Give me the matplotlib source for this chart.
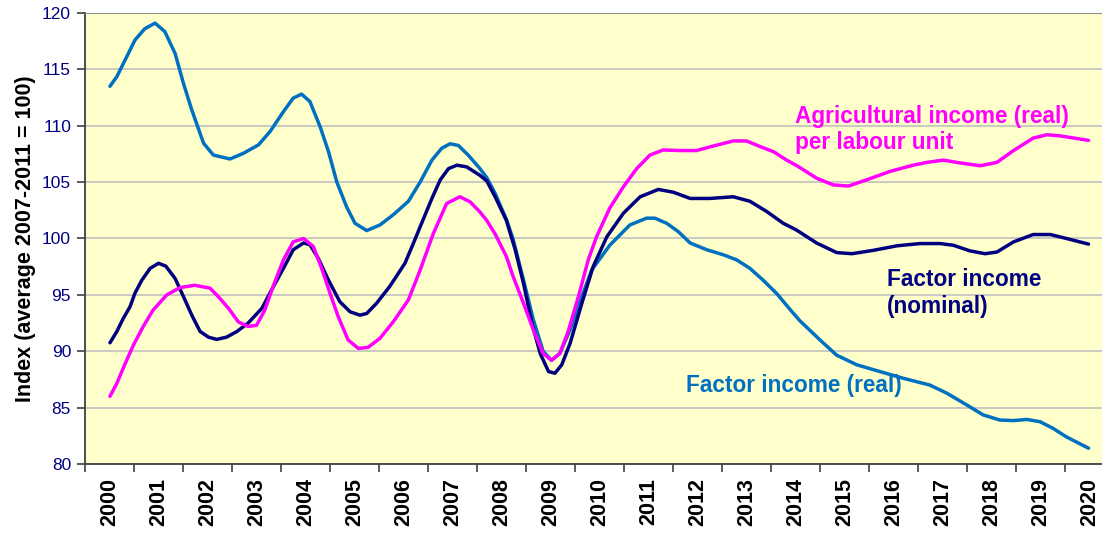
import numpy as np
import matplotlib
matplotlib.use("Agg")
import matplotlib.pyplot as plt
from matplotlib.ticker import MultipleLocator, FixedLocator, NullFormatter

plt.rcParams['font.family'] = ['Liberation Sans', 'DejaVu Sans']

# values (fractional years, index 2007-2011 = 100)
real_x = [2000.01, 2000.15, 2000.35, 2000.52, 2000.72, 2000.93, 2001.13, 2001.34, 2001.51,
          2001.68, 2001.92, 2002.12, 2002.46, 2002.73, 2003.04, 2003.28, 2003.55, 2003.75,
          2003.92, 2004.09, 2004.30, 2004.47, 2004.64, 2004.84, 2005.01, 2005.25, 2005.52,
          2005.79, 2006.10, 2006.34, 2006.58, 2006.78, 2006.95, 2007.12, 2007.32, 2007.56,
          2007.70, 2007.87, 2008.10, 2008.24, 2008.45, 2008.65, 2008.85, 2009.02, 2009.19,
          2009.40, 2009.64, 2009.84, 2010.21, 2010.62, 2010.96, 2011.13, 2011.37, 2011.61,
          2011.85, 2012.19, 2012.53, 2012.80, 2013.07, 2013.34, 2013.62, 2013.89, 2014.09,
          2014.50, 2014.84, 2015.25, 2015.72, 2016.20, 2016.74, 2017.08, 2017.49, 2017.83,
          2018.17, 2018.45, 2018.72, 2018.99, 2019.26, 2019.53, 2019.98]
real_y = [113.5, 114.35, 116.1, 117.6, 118.6, 119.1, 118.35, 116.4, 113.75,
          111.4, 108.45, 107.4, 107.05, 107.55, 108.3, 109.5, 111.25, 112.45,
          112.8, 112.15, 109.9, 107.7, 105.0, 102.8, 101.35, 100.7, 101.2,
          102.1, 103.3, 105.0, 106.95, 108.0, 108.4, 108.25, 107.4, 106.2,
          105.4, 104.0, 101.7, 99.9, 96.3, 92.8, 90.0, 89.2, 89.8,
          91.9, 94.85, 97.2, 99.4, 101.2, 101.8, 101.8, 101.35, 100.6,
          99.6, 99.0, 98.55, 98.1, 97.35, 96.3, 95.1, 93.7, 92.7,
          91.0, 89.65, 88.8, 88.2, 87.6, 87.0, 86.3, 85.25, 84.35,
          83.9, 83.85, 83.95, 83.75, 83.15, 82.4, 81.4]

nominal_x = [2000.01, 2000.15, 2000.28, 2000.42, 2000.52, 2000.66, 2000.83, 2001.00, 2001.15,
             2001.34, 2001.51, 2001.68, 2001.85, 2002.02, 2002.19, 2002.39, 2002.60, 2002.83,
             2003.11, 2003.31, 2003.55, 2003.75, 2003.96, 2004.09, 2004.26, 2004.47, 2004.70,
             2004.91, 2005.11, 2005.25, 2005.45, 2005.72, 2006.03, 2006.20, 2006.37, 2006.58,
             2006.75, 2006.92, 2007.09, 2007.29, 2007.56, 2007.70, 2007.87, 2008.10, 2008.28,
             2008.45, 2008.62, 2008.79, 2008.96, 2009.09, 2009.23, 2009.40, 2009.64, 2009.87,
             2010.15, 2010.49, 2010.83, 2011.20, 2011.51, 2011.85, 2012.25, 2012.73, 2013.07,
             2013.41, 2013.75, 2014.02, 2014.43, 2014.84, 2015.15, 2015.59, 2016.07, 2016.54,
             2016.95, 2017.22, 2017.56, 2017.87, 2018.11, 2018.45, 2018.85, 2019.20, 2019.53,
             2019.98]
nominal_y = [90.75, 91.75, 92.9, 93.95, 95.15, 96.3, 97.35, 97.8, 97.55,
             96.45, 94.85, 93.2, 91.75, 91.25, 91.05, 91.25, 91.75, 92.5,
             93.8, 95.45, 97.35, 99.0, 99.6, 99.45, 98.25, 96.3, 94.4,
             93.5, 93.2, 93.35, 94.25, 95.75, 97.8, 99.55, 101.35, 103.55,
             105.2, 106.2, 106.5, 106.35, 105.6, 105.1, 103.7, 101.6, 99.0,
             96.0, 92.5, 89.8, 88.2, 88.05, 88.8, 90.7, 94.25, 97.5,
             100.15, 102.25, 103.7, 104.35, 104.1, 103.55, 103.55, 103.7, 103.3,
             102.4, 101.35, 100.75, 99.6, 98.75, 98.65, 98.95, 99.35, 99.55,
             99.55, 99.4, 98.9, 98.65, 98.8, 99.7, 100.35, 100.35, 100.0,
             99.5]

agri_x = [2000.01, 2000.15, 2000.32, 2000.49, 2000.69, 2000.89, 2001.17, 2001.44, 2001.74,
          2002.05, 2002.22, 2002.43, 2002.63, 2002.83, 2003.00, 2003.17, 2003.34, 2003.55,
          2003.75, 2003.96, 2004.16, 2004.33, 2004.50, 2004.67, 2004.87, 2005.08, 2005.28,
          2005.52, 2005.79, 2006.10, 2006.34, 2006.61, 2006.88, 2007.15, 2007.36, 2007.56,
          2007.70, 2007.87, 2008.10, 2008.24, 2008.45, 2008.65, 2008.85, 2009.02, 2009.19,
          2009.36, 2009.57, 2009.77, 2009.94, 2010.21, 2010.49, 2010.76, 2011.03, 2011.30,
          2011.64, 2011.98, 2012.32, 2012.73, 2013.00, 2013.28, 2013.55, 2013.82, 2014.05,
          2014.43, 2014.77, 2015.08, 2015.45, 2015.93, 2016.40, 2016.68, 2017.02, 2017.36,
          2017.77, 2018.11, 2018.45, 2018.85, 2019.13, 2019.40, 2019.98]
agri_y = [86.0, 87.15, 88.9, 90.55, 92.2, 93.65, 95.0, 95.65, 95.85,
          95.6, 94.85, 93.8, 92.6, 92.2, 92.3, 93.65, 95.75, 98.1,
          99.7, 100.0, 99.3, 97.35, 95.15, 93.05, 91.0, 90.25, 90.35,
          91.15, 92.6, 94.55, 97.2, 100.45, 103.1, 103.7, 103.25, 102.35,
          101.6, 100.4, 98.4, 96.6, 94.25, 91.9, 89.8, 89.2, 89.8,
          91.75, 94.85, 98.1, 100.15, 102.7, 104.6, 106.2, 107.4, 107.85,
          107.8, 107.8, 108.2, 108.65, 108.65, 108.15, 107.7, 106.95, 106.4,
          105.35, 104.75, 104.65, 105.2, 105.95, 106.5, 106.75, 106.95, 106.7,
          106.45, 106.75, 107.8, 108.9, 109.2, 109.1, 108.7]

years = list(range(2000, 2021))

fig = plt.figure(figsize=(11.02, 5.34), dpi=100)
ax = fig.add_axes([0.0771, 0.1311, 0.9338, 0.8446])
ax.set_facecolor('#FFFFCC')

ax.plot(real_x, real_y, color='#0070C0', lw=2.5, solid_capstyle='round',
        solid_joinstyle='round', zorder=3)
ax.plot(nominal_x, nominal_y, color='#000080', lw=2.5, solid_capstyle='round',
        solid_joinstyle='round', zorder=4)
ax.plot(agri_x, agri_y, color='#FF00FF', lw=2.5, solid_capstyle='round',
        solid_joinstyle='round', zorder=5)

ax.set_xlim(1999.5, 2020.5)
ax.set_ylim(80, 120)

# category boundaries carry the tick marks, labels sit in the middle
ax.xaxis.set_major_locator(FixedLocator([y - 0.5 for y in years] + [2020.5]))
ax.xaxis.set_major_formatter(NullFormatter())
ax.xaxis.set_minor_locator(FixedLocator(years))
ax.set_xticklabels([str(y) for y in years], minor=True, rotation=90,
                   fontsize=15.5, fontweight='bold')
ax.tick_params(axis='x', which='major', length=6, width=1.2, color='#404040', direction='out')
ax.tick_params(axis='x', which='minor', length=0, pad=10)

ax.yaxis.set_major_locator(MultipleLocator(5))
ax.tick_params(axis='y', length=6, width=1.2, color='#404040', direction='out',
               labelsize=12.5, labelcolor='#000080', pad=4)
ax.set_ylabel('Index (average 2007-2011 = 100)', fontsize=15.5, fontweight='bold', labelpad=4)

ax.grid(axis='y', color='#C0C0C0', lw=1.2)
ax.set_axisbelow(True)
for s in ['left', 'bottom']:
    ax.spines[s].set_color('#404040')
    ax.spines[s].set_linewidth(1.3)
ax.spines['top'].set_color('#909090')
ax.spines['right'].set_visible(False)

lab = dict(fontsize=16.3, fontweight='bold', va='baseline')
ax.text(2013.99, 110.25, 'Agricultural income (real)', color='#FF00FF', **lab)
ax.text(2013.99, 107.9, 'per labour unit', color='#FF00FF', **lab)
ax.text(2015.86, 95.8, 'Factor income', color='#000080', **lab)
ax.text(2015.86, 93.4, '(nominal)', color='#000080', **lab)
ax.text(2011.77, 86.4, 'Factor income (real)', color='#0070C0', **lab)

fig.savefig('out.png', dpi=100)
